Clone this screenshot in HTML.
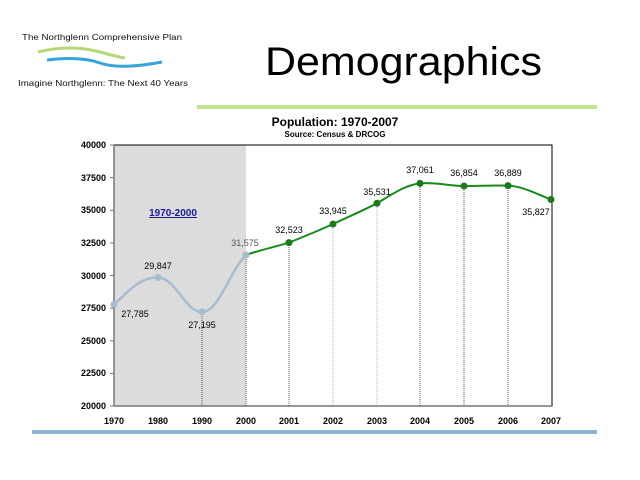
<!DOCTYPE html>
<html><head><meta charset="utf-8"><style>body{margin:0;background:#fff}svg{display:block}</style></head>
<body>
<svg width="640" height="480" viewBox="0 0 640 480" xmlns="http://www.w3.org/2000/svg" font-family="Liberation Sans, sans-serif">
<rect width="640" height="480" fill="#fff"/>
<!-- logo -->
<text x="22" y="40" font-size="8" fill="#111" textLength="160" lengthAdjust="spacingAndGlyphs">The Northglenn Comprehensive Plan</text>
<path d="M38 52 Q70 44 100 52 T122 57" stroke="#b4d77a" stroke-width="3" fill="none"/>
<path d="M47 60 Q80 56 100 63 T162 62" stroke="#35a4dc" stroke-width="3" fill="none"/>
<text x="18" y="86" font-size="8.5" fill="#111" textLength="170" lengthAdjust="spacingAndGlyphs">Imagine Northglenn: The Next 40 Years</text>
<text x="265" y="75" font-size="40" fill="#000" textLength="277" lengthAdjust="spacingAndGlyphs">Demographics</text>
<rect x="197" y="105" width="400" height="4" fill="#c2e48e"/>
<text x="335" y="126" font-size="12" font-weight="bold" text-anchor="middle">Population: 1970-2007</text>
<text x="335" y="137" font-size="8" font-weight="bold" text-anchor="middle">Source: Census &amp; DRCOG</text>
<!-- plot -->
<rect x="114" y="145" width="132" height="261" fill="#dcdcdc"/>
<rect x="114" y="145" width="438" height="261" fill="none" stroke="#000" stroke-width="1"/>
<line x1="114" y1="145" x2="114" y2="406" stroke="#777" stroke-width="1.5"/>
<line x1="114" y1="406" x2="552" y2="406" stroke="#777" stroke-width="1.5"/>
<g stroke="#777">
<line x1="110" y1="145" x2="114" y2="145"/><line x1="110" y1="177.6" x2="114" y2="177.6"/><line x1="110" y1="210.3" x2="114" y2="210.3"/><line x1="110" y1="242.9" x2="114" y2="242.9"/><line x1="110" y1="275.5" x2="114" y2="275.5"/><line x1="110" y1="308.1" x2="114" y2="308.1"/><line x1="110" y1="340.8" x2="114" y2="340.8"/><line x1="110" y1="373.4" x2="114" y2="373.4"/><line x1="110" y1="406" x2="114" y2="406"/>
</g>
<g font-size="9" font-weight="bold" text-anchor="end">
<text x="106" y="148">40000</text><text x="106" y="181">37500</text><text x="106" y="213">35000</text><text x="106" y="246">32500</text><text x="106" y="279">30000</text><text x="106" y="311">27500</text><text x="106" y="344">25000</text><text x="106" y="376">22500</text><text x="106" y="409">20000</text>
</g>
<g font-size="9" font-weight="bold" text-anchor="middle">
<text x="114" y="424">1970</text><text x="158" y="424">1980</text><text x="202" y="424">1990</text><text x="246" y="424">2000</text><text x="289" y="424">2001</text><text x="333" y="424">2002</text><text x="377" y="424">2003</text><text x="420" y="424">2004</text><text x="464" y="424">2005</text><text x="508" y="424">2006</text><text x="551" y="424">2007</text>
</g>
<g stroke="#333" stroke-width="0.8" stroke-dasharray="1,1">
<line x1="202" y1="312" x2="202" y2="406"/><line x1="246" y1="255" x2="246" y2="406"/><line x1="289" y1="243" x2="289" y2="406"/><line x1="333" y1="224" x2="333" y2="406" stroke="#999"/><line x1="377" y1="203" x2="377" y2="406" stroke="#999"/><line x1="420" y1="183" x2="420" y2="406"/><line x1="464" y1="186" x2="464" y2="406"/><line x1="508" y1="186" x2="508" y2="406"/>
</g>
<path d="M114 304.4 C130 290 140 277 158 277.5 C176 278 185 312 202 312 C219 312 230 270 246 255" stroke="#a6bcd0" stroke-width="2.5" fill="none"/>
<path d="M246 255 C260 250 275 247 289 242.6 C303 237 318 231 333 224 C348 217 362 211 377 203.3 C391 195 405 185 420 183.4 C435 182 450 186 464 186 C479 186 494 185 508 185.6 C522 186 537 194 551 199.5" stroke="#1a8a1a" stroke-width="2" fill="none"/>
<g fill="#a6bcd0"><circle cx="114" cy="304.4" r="3.5"/><circle cx="158" cy="277.5" r="3.5"/><circle cx="202" cy="312" r="3.5"/><circle cx="246" cy="255" r="3.5"/></g>
<g fill="#1a7a1a"><circle cx="289" cy="242.6" r="3.5"/><circle cx="333" cy="224" r="3.5"/><circle cx="377" cy="203.3" r="3.5"/><circle cx="420" cy="183.4" r="3.5"/><circle cx="464" cy="186" r="3.5"/><circle cx="508" cy="185.6" r="3.5"/><circle cx="551" cy="199.5" r="3.5"/></g>
<g font-size="9" text-anchor="middle" fill="#000">
<text x="135" y="317">27,785</text><text x="158" y="269">29,847</text><text x="202" y="328">27,195</text><text x="245" y="246" fill="#555">31,575</text><text x="289" y="233">32,523</text><text x="333" y="214">33,945</text><text x="377" y="195">35,531</text><text x="420" y="173">37,061</text><text x="464" y="176">36,854</text><text x="508" y="176">36,889</text><text x="536" y="215">35,827</text>
</g>
<text x="173" y="216" font-size="10" font-weight="bold" fill="#1a1aa0" text-anchor="middle" text-decoration="underline">1970-2000</text>
<line x1="173" y1="218" x2="173" y2="218"/>
<rect x="152" y="217" width="42" height="1" fill="#1a1aa0"/>
<rect x="32" y="430" width="565" height="4" fill="#8db4d6"/>
</svg>
</body></html>
